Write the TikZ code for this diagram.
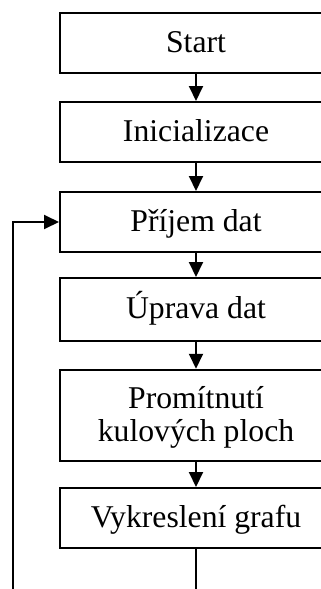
\documentclass[tikz,border=0pt]{standalone}
\usepackage{fontspec}
\setmainfont{Liberation Serif}
\usetikzlibrary{arrows.meta}
\begin{document}
\begin{tikzpicture}[x=1pt,y=1pt,
  box/.style={draw, line width=2pt, minimum width=272pt, inner sep=0pt,
    text height=22pt, text depth=3.5pt,
    font=\fontsize{31.7}{33.5}\selectfont, align=center},
  arr/.style={line width=2pt, -{Triangle[length=15pt,width=14pt]}}]
\useasboundingbox (0,0) rectangle (321,-589);
\clip (0,0) rectangle (321,-589);
\node[box, minimum height=60pt] (start) at (196,-43) {Start};
\node[box, minimum height=60pt] (init) at (196,-132) {Inicializace};
\node[box, minimum height=60pt] (prijem) at (196,-222) {Příjem dat};
\node[box, minimum height=63pt] (uprava) at (196,-309.5) {Úprava dat};
\node[box, minimum height=91.5pt, text height=55.5pt] (prom) at (196,-415.5) {Promítnutí\\kulových ploch};
\node[box, minimum height=60pt] (vykr) at (196,-518) {Vykreslení grafu};
\coordinate (loopx) at (12.7,-620);
\draw[arr] (start.south) -- (init.north);
\draw[arr] (init.south) -- (prijem.north);
\draw[arr] (prijem.south) -- (uprava.north);
\draw[arr] (uprava.south) -- (prom.north);
\draw[arr] (prom.south) -- (vykr.north);
\draw[arr] (vykr.south) |- (loopx) |- (prijem.west);
\end{tikzpicture}
\end{document}
